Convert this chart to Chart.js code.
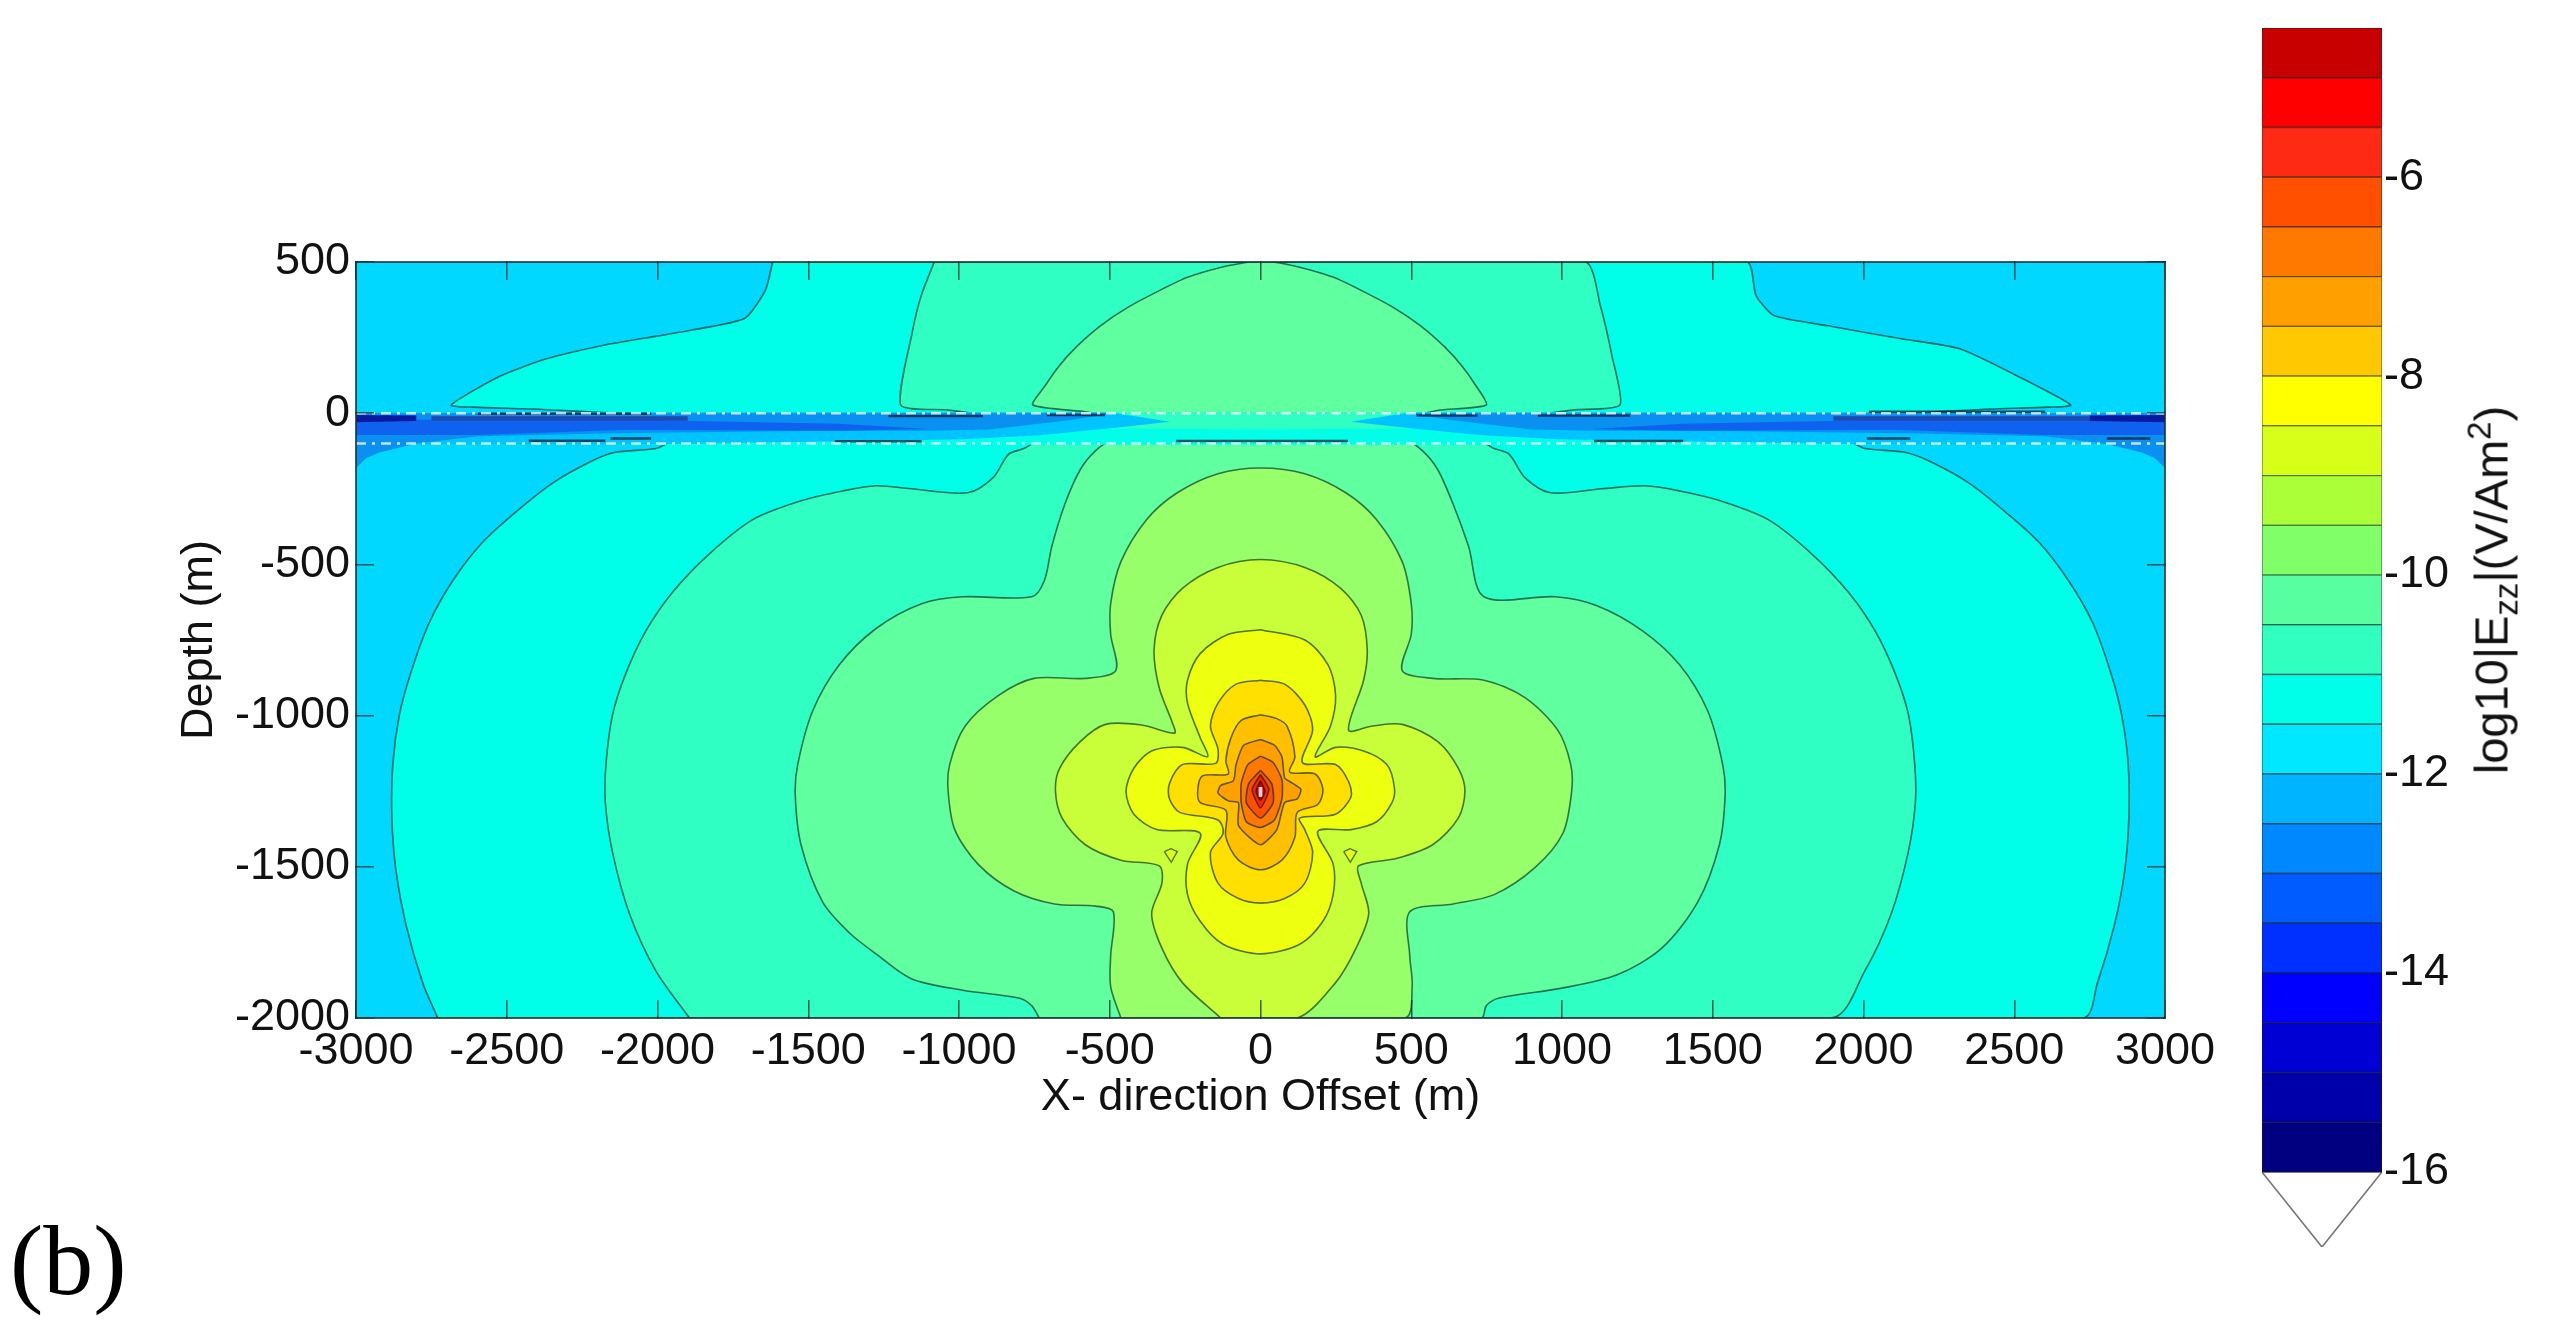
<!DOCTYPE html>
<html lang="en">
<head>
<meta charset="UTF-8">
<title>log10|Ezz| contour</title>
<script src="https://cdn.jsdelivr.net/npm/chart.js"></script>
<style>
    html, body { margin: 0; padding: 0; background: #fff; width: 2550px; height: 1340px; overflow: hidden; }
    canvas { position: absolute; filter: blur(0.7px); }
    #mainChart { left: 0; top: 0; }
    #barChart { left: 2200px; top: 0; }
    #barTitle {
        position: absolute; left: 2491px; top: 590px; white-space: nowrap;
        transform: translate(-50%, -50%) rotate(-90deg);
        font: 47px "Liberation Sans", Arial, sans-serif; color: #111; filter: blur(0.6px);
    }
    #barTitle sub, #barTitle sup { font-size: 33px; line-height: 0; }
    #panelTag { position: absolute; left: 10px; top: 1206px; font: 100px "Liberation Serif", serif; color: #000; line-height: 1.1; }
</style>
</head>
<body>
<canvas id="mainChart" width="2250" height="1130"></canvas>
<canvas id="barChart" width="350" height="1340"></canvas>
<div id="barTitle">log10|E<sub>zz</sub>|(V/Am<sup>2</sup>)</div>
<div id="panelTag">(b)</div>

<script>
// ticks
var xTicks = [-3000, -2500, -2000, -1500, -1000, -500, 0, 500, 1000, 1500, 2000, 2500, 3000];
var yTicks = [-2000, -1500, -1000, -500, 0, 500];
var barTicks = [-16, -14, -12, -10, -8, -6];

// colour bar levels, bottom to top
var barLevels = [-16, -15.5, -15, -14.5, -14, -13.5, -13, -12.5, -12, -11.5, -11, -10.5, -10, -9.5, -9, -8.5, -8, -7.5, -7, -6.5, -6, -5.5, -5, -4.5];
var barColors = ['#000080', '#0000aa', '#0000d4', '#0000ff', '#0030ff', '#005cff', '#0088ff', '#00b4ff', '#00e8ff', '#00ffe8', '#30ffc0', '#58ffa0',
    '#80ff68', '#aaff38', '#d8ff18', '#ffff00', '#ffc800', '#ffa000', '#ff7800', '#ff5000', '#ff2a14', '#ff0000', '#c80000'];
var barTip = [[0, -16], [0.5, -16.755], [1, -16]];

// whole plot background level
var plotFrame = [[-3000, -2000], [-3000, 500], [3000, 500], [3000, -2000]];

// lower half space contours (below the sea layer), outermost first
var low115 = [[-2729, -2000], [-2779, -1883], [-2834, -1693], [-2867, -1516], [-2881, -1339], [-2878, -1162], [-2856, -997], [-2818, -858], [-2757, -693], [-2679, -554], [-2580, -427], [-2469, -326], [-2348, -231], [-2226, -162], [-2143, -130], [-2005, -117], [-1950, -95],
    [1950, -95], [2005, -117], [2140, -130], [2226, -162], [2350, -231], [2470, -326], [2582, -427], [2680, -554], [2760, -693], [2820, -858], [2856, -997], [2878, -1162], [2880, -1339], [2866, -1516], [2832, -1693], [2776, -1883], [2726, -2000]];
var low110 = [[-1894, -2000], [-2005, -1845], [-2093, -1655], [-2149, -1453], [-2173, -1288], [-2171, -1162], [-2149, -997], [-2104, -858], [-2038, -719], [-1950, -592], [-1828, -465], [-1684, -352], [-1518, -288], [-1386, -257], [-1275, -240], [-1158, -250], [-971, -263], [-886, -212], [-836, -136], [-785, -117], [-740, -95],
    [730, -95], [775, -117], [825, -136], [876, -212], [961, -263], [1131, -250], [1275, -240], [1390, -257], [1520, -288], [1684, -352], [1828, -465], [1950, -592], [2038, -719], [2104, -858], [2149, -997], [2170, -1162], [2172, -1288], [2148, -1453], [2092, -1655], [2004, -1845], [1892, -2000]];
var low105 = [[-734, -2000], [-759, -1959], [-802, -1934], [-988, -1908], [-1158, -1870], [-1275, -1788], [-1364, -1718], [-1452, -1617], [-1524, -1427], [-1543, -1263], [-1535, -1162], [-1485, -984], [-1397, -832], [-1275, -712], [-1124, -630], [-988, -607], [-759, -607], [-717, -554], [-692, -440], [-649, -301], [-598, -187], [-547, -124], [-500, -95],
    [490, -95], [537, -124], [588, -187], [639, -301], [690, -440], [741, -607], [978, -607], [1114, -636], [1266, -719], [1390, -832], [1483, -984], [1533, -1162], [1541, -1263], [1522, -1427], [1450, -1617], [1331, -1769], [1181, -1858], [995, -1902], [792, -1934], [749, -1959], [732, -2000]];
var low100 = [[-463, -2000], [-497, -1896], [-497, -1794], [-488, -1649], [-547, -1630], [-683, -1623], [-819, -1579], [-937, -1491], [-1014, -1377], [-1036, -1250], [-1031, -1162], [-980, -1035], [-870, -934], [-751, -877], [-581, -877], [-480, -851], [-497, -731], [-497, -630], [-463, -491], [-378, -352], [-276, -263], [-141, -200], [0, -181],
    [147, -200], [283, -263], [385, -352], [470, -491], [500, -630], [500, -731], [470, -851], [571, -877], [741, -883], [876, -940], [986, -1048], [1029, -1162], [1032, -1250], [1003, -1389], [910, -1503], [775, -1592], [639, -1623], [495, -1649], [495, -1794], [503, -1896], [478, -2000]];
var low95 = [[-132, -2000], [-259, -1883], [-327, -1769], [-361, -1655], [-327, -1554], [-336, -1497], [-463, -1478], [-581, -1427], [-658, -1339], [-680, -1250], [-666, -1174], [-598, -1086], [-514, -1029], [-395, -1031], [-285, -1058], [-293, -1022], [-336, -908], [-353, -782], [-327, -668], [-259, -579], [-141, -510], [0, -484],
    [147, -510], [266, -579], [334, -668], [354, -782], [342, -883], [292, -1048], [368, -1035], [470, -1029], [588, -1086], [656, -1174], [678, -1250], [656, -1339], [571, -1427], [453, -1472], [325, -1497], [334, -1554], [359, -1655], [317, -1769], [249, -1883], [122, -2000]];
var low90 = [[0, -716], [-107, -731], [-200, -795], [-242, -883], [-242, -959], [-200, -1073], [-175, -1136], [-259, -1105], [-361, -1117], [-420, -1174], [-446, -1250], [-420, -1326], [-344, -1377], [-200, -1389], [-242, -1491], [-242, -1592], [-200, -1680], [-124, -1756], [0, -1788],
    [130, -1756], [207, -1680], [241, -1592], [241, -1491], [190, -1383], [300, -1377], [385, -1351], [436, -1288], [444, -1237], [419, -1162], [342, -1117], [249, -1105], [181, -1136], [232, -1035], [249, -934], [224, -832], [147, -750]];
var low85 = [[0, -883], [-81, -896], [-141, -959], [-166, -1035], [-141, -1111], [-149, -1158], [-259, -1162], [-302, -1225], [-302, -1275], [-268, -1320], [-141, -1345], [-124, -1389], [-166, -1453], [-141, -1554], [-73, -1605], [0, -1620],
    [80, -1605], [147, -1554], [173, -1453], [147, -1377], [130, -1339], [249, -1326], [300, -1269], [292, -1218], [249, -1162], [139, -1155], [173, -1048], [147, -965], [80, -896]];
var low80 = [[0, -997], [-64, -1016], [-98, -1073], [-115, -1149], [-107, -1193], [-192, -1199], [-208, -1244], [-200, -1288], [-115, -1313], [-115, -1402], [-73, -1478], [0, -1510],
    [71, -1478], [114, -1402], [122, -1320], [190, -1294], [207, -1244], [181, -1193], [97, -1187], [114, -1136], [88, -1035], [54, -1010]];
var low75 = [[0, -1079], [-56, -1098], [-81, -1162], [-90, -1215], [-132, -1231], [-141, -1256], [-107, -1282], [-73, -1288], [-73, -1364], [0, -1427],
    [54, -1377], [80, -1288], [122, -1275], [134, -1244], [97, -1218], [80, -1206], [71, -1136], [46, -1098]];
var low70 = [[0, -1134], [-42, -1162], [-64, -1225], [-64, -1288], [-47, -1351], [0, -1370], [46, -1345], [71, -1275], [71, -1212], [42, -1155]];
var low65 = [[0, -1181], [-39, -1225], [-47, -1288], [0, -1339], [42, -1288], [37, -1225]];
var low60 = [[0, -1195], [-28, -1244], [0, -1305], [28, -1244]];
var low55 = [[0, -1215], [-15, -1250], [0, -1280], [15, -1250]];
var sourceDot = [[-6, -1236], [6, -1236], [6, -1268], [-6, -1268]];
var lowColors = ['#00ffe8', '#30ffc4', '#60ff9f', '#96ff69', '#c8ff38', '#eeff10', '#ffe000', '#ffc000', '#ffa000', '#ff7800', '#ff5000', '#ff2000', '#d00000'];

// small closed loops either side of the lower lobe
var loopLeft = [[-319, -1450], [-297, -1440], [-276, -1450], [-296, -1485]];
var loopRight = [[276, -1450], [297, -1440], [319, -1450], [298, -1485]];

// air side contours, above the sea layer
var up115 = [[-1618, 500], [-1642, 407], [-1710, 314], [-1885, 275], [-2002, 255], [-2178, 225], [-2372, 179], [-2528, 120], [-2684, 27], [-2610, 20], [-2410, 14], [-2000, -5],
    [2000, -5], [2420, 14], [2610, 20], [2687, 27], [2518, 119], [2319, 213], [2120, 247], [1882, 289], [1703, 323], [1643, 390], [1613, 500]];
var up110 = [[-1082, 500], [-1125, 390], [-1154, 272], [-1193, 27], [-1040, 11], [-900, -5], [900, -5], [1040, 11], [1192, 27], [1166, 188], [1127, 356], [1077, 500]];
var up105 = [[-40, 500], [-133, 482], [-240, 450], [-332, 407], [-440, 350], [-531, 289], [-610, 220], [-670, 154], [-715, 90], [-755, 27], [-583, 5], [-515, -5],
    [515, -5], [590, 10], [749, 27], [715, 90], [670, 154], [610, 220], [531, 289], [440, 350], [332, 407], [240, 450], [133, 482], [40, 500]];
var upColors = ['#00ffe8', '#30ffc4', '#60ff9f'];

// sea layer, y from 0 to -100, painted outside in
var seaBase = [[-3000, 3], [3000, 3], [3000, -104], [-3000, -104]];
var seaCentre = [[-800, 3], [800, 3], [600, -50], [0, -54], [-600, -50]];
var seaLight = [[-3000, 3], [-500, 3], [-300, -28], [-480, -48], [-734, -73], [-988, -86], [-1330, -92], [-2100, -104], [-3000, -104]];
var seaLight2 = [[3000, 3], [500, 3], [300, -28], [480, -48], [734, -73], [988, -86], [1330, -92], [2100, -104], [3000, -104]];
var seaMid = [[-3000, 0], [-480, 0], [-650, -25], [-900, -54], [-1107, -58], [-1445, -58], [-2156, -66], [-2596, -76], [-2800, -100], [-2923, -130], [-2967, -149], [-3000, -181]];
var seaMid2 = [[3000, 0], [480, 0], [650, -25], [900, -54], [1110, -58], [1450, -58], [2150, -66], [2600, -76], [2800, -100], [2923, -130], [2967, -149], [3000, -181]];
var seaDeep = [[-3000, -22], [-2100, -22], [-1400, -35], [-1100, -52], [-1400, -58], [-2100, -55], [-2600, -72], [-3000, -72]];
var seaDeep2 = [[3000, -22], [2100, -22], [1400, -35], [1100, -52], [1400, -58], [2100, -55], [2600, -72], [3000, -72]];
var seaDark = [[-2750, -10], [-1900, -10], [-1900, -25], [-2750, -25]];
var seaDark2 = [[2750, -10], [1900, -10], [1900, -25], [2750, -25]];
var seaNavy = [[-3000, -6], [-2800, -8], [-2800, -26], [-3000, -30]];
var seaNavy2 = [[3000, -6], [2750, -8], [2750, -26], [3000, -30]];
var seaColors = ['#00ffe8', '#30ffc4', '#00c4ff', '#00c4ff', '#0a90f0', '#0a90f0', '#0f62f0', '#0f62f0', '#1e4ab0', '#1e4ab0', '#0a1aa0', '#0a1aa0'];

// dark contour bits along the sea layer
var seaStrokes = [
    [[-2596, -2], [-2021, -2]], [[-1234, -9], [-921, -9]], [[-709, -6], [-515, -6]], [[517, -8], [720, -8]], [[920, -8], [1226, -8]], [[2018, 5], [2603, 5]],
    [[-2427, -91], [-2173, -91]], [[-2156, -84], [-2021, -84]], [[-1412, -93], [-1124, -93]], [[-280, -92], [290, -92]], [[1106, -92], [1402, -92]], [[2011, -84], [2155, -84]], [[2807, -84], [2951, -84]]
];

// layer boundaries, drawn dash dot
var seaTop = [[-3000, 0], [3000, 0]];
var seaBottom = [[-3000, -100], [3000, -100]];

function pts(list, closed) {
    var out = list.map(function (p) { return { x: p[0], y: p[1] }; });
    if (closed) out.push({ x: list[0][0], y: list[0][1] });
    return out;
}

function area(list, color, lineColor, width, tension) {
    return {
        data: pts(list, true), showLine: true, fill: 'shape', backgroundColor: color,
        borderColor: lineColor || 'transparent', borderWidth: width === undefined ? 1.6 : width,
        pointRadius: 0, tension: tension || 0
    };
}

var edge = 'rgba(0,30,20,0.62)';
var layers = [];
layers.push(area(plotFrame, '#00d8ff', null, 0));
[low115, low110, low105, low100, low95, low90, low85, low80, low75, low70, low65, low60, low55].forEach(function (c, i) {
    layers.push(area(c, lowColors[i], edge, 1.6, i < 8 ? 0.3 : 0.2));
});
layers.push(area(loopLeft, '#e0ff18', edge, 1.4));
layers.push(area(loopRight, '#e0ff18', edge, 1.4));
layers.push(area(sourceDot, '#ffd8e0', null, 0));
[up115, up110, up105].forEach(function (c, i) {
    layers.push(area(c, upColors[i], edge, 1.6, 0.2));
});
[seaBase, seaCentre, seaLight, seaLight2, seaMid, seaMid2, seaDeep, seaDeep2, seaDark, seaDark2, seaNavy, seaNavy2].forEach(function (c, i) {
    layers.push(area(c, seaColors[i], null, 0));
});
seaStrokes.forEach(function (s) {
    layers.push({ data: pts(s), showLine: true, borderColor: 'rgba(10,20,40,0.7)', borderWidth: 2.5, pointRadius: 0 });
});
[seaTop, seaBottom].forEach(function (s) {
    layers.push({ data: pts(s), showLine: true, borderColor: 'rgba(255,255,255,0.75)', borderWidth: 2.5, borderDash: [10, 6, 3, 6], pointRadius: 0 });
});

var labelFont = { family: '"Liberation Sans", Arial, sans-serif', size: 45 };
var frameColor = 'rgba(20,50,50,0.8)';

function axis(position, ticks, min, max, size, showLabels, padding) {
    return {
        type: 'linear', position: position, min: min, max: max,
        afterBuildTicks: function (s) { s.ticks = ticks.map(function (v) { return { value: v }; }); },
        afterFit: function (s) {
            if (s.isHorizontal()) s.height = size; else s.width = size;
        },
        grid: { drawOnChartArea: false, tickLength: -18, color: frameColor, lineWidth: 1.5, z: 1 },
        border: { display: true, color: frameColor, width: 2, z: 1 },
        ticks: {
            display: showLabels, autoSkip: false, maxRotation: 0, padding: padding, color: '#111', font: labelFont,
            callback: function (v) { return String(v); }
        }
    };
}

var xAxis = axis('bottom', xTicks, -3000, 3000, 107, true, 25);
xAxis.title = { display: true, text: 'X- direction Offset (m)', color: '#111', font: labelFont, padding: 0 };
var yAxis = axis('left', yTicks, -2000, 500, 183, true, 24);
yAxis.title = { display: true, text: 'Depth (m)', color: '#111', font: labelFont, padding: 0 };

new Chart(document.getElementById('mainChart'), {
    type: 'scatter',
    data: { datasets: layers.reverse() },
    options: {
        responsive: false,
        animation: false,
        layout: { padding: { left: 173, top: 262, right: 85, bottom: 5 } },
        plugins: { legend: { display: false }, tooltip: { enabled: false } },
        scales: {
            x: xAxis,
            y: yAxis,
            x2: axis('top', xTicks, -3000, 3000, 0, false, 0),
            y2: axis('right', yTicks, -2000, 500, 0, false, 0)
        }
    }
});

// colour bar
var barSets = [];
barColors.forEach(function (c, i) {
    var lo = barLevels[i], hi = barLevels[i + 1];
    barSets.push(area([[0, lo], [1, lo], [1, hi], [0, hi]], c, 'rgba(20,30,30,0.5)', 1.4));
});
barSets.push(area(barTip, '#ffffff', 'rgba(60,60,60,0.7)', 1.6));

new Chart(document.getElementById('barChart'), {
    type: 'scatter',
    data: { datasets: barSets },
    options: {
        responsive: false,
        animation: false,
        layout: { padding: { left: 62, top: 28, right: 0, bottom: 93 } },
        plugins: { legend: { display: false }, tooltip: { enabled: false } },
        scales: {
            x: { type: 'linear', min: 0, max: 1, display: false },
            y: {
                type: 'linear', position: 'right', min: -16.755, max: -4.5,
                afterBuildTicks: function (s) { s.ticks = barTicks.map(function (v) { return { value: v }; }); },
                afterFit: function (s) { s.width = 168; },
                grid: { display: false },
                border: { display: false },
                ticks: { autoSkip: false, padding: -6, color: '#111', font: labelFont, callback: function (v) { return String(v); } }
            }
        }
    }
});
</script>
</body>
</html>
